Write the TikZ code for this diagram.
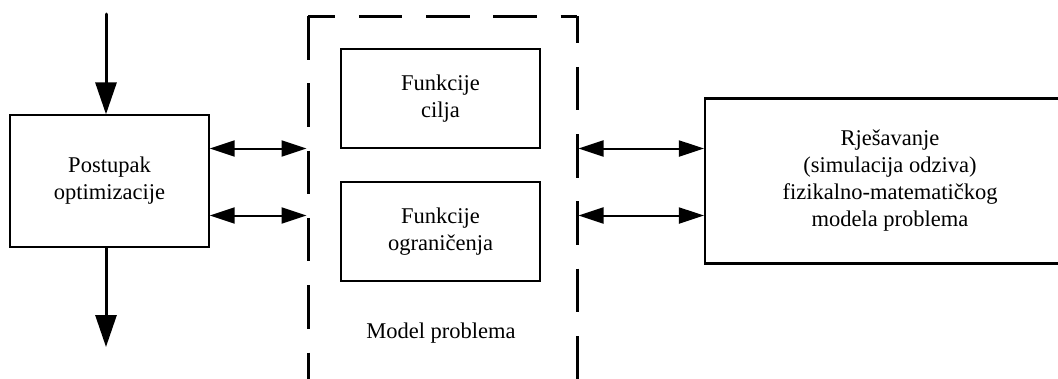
\documentclass[tikz,border=0pt]{standalone}
\usepackage{fontspec}
\setmainfont{Liberation Serif}
\usetikzlibrary{arrows.meta}
\begin{document}
\begin{tikzpicture}[x=1pt,y=-1pt,
  txt/.style={font=\fontsize{22.5}{27}\selectfont, align=center},
  thinbox/.style={draw, line width=1.3pt, inner sep=0pt, txt},
  midbox/.style={draw, line width=2.2pt, inner sep=0pt, txt},
  vflow/.style={line width=3pt, line cap=round, -{Triangle[length=32pt,width=21pt]}},
  link/.style={line width=2pt, {Triangle[length=25pt,width=16pt]}-{Triangle[length=25pt,width=16pt]}},
  dashline/.style={line width=3pt, dash pattern=on 43.5pt off 23.8pt}
]
\clip (0,0) rectangle (1058,378);

% left box
\node[thinbox, minimum width=199pt, minimum height=132pt] (opt) at (109.5,181) {Postupak\\optimizacije};

% vertical flow arrows
\coordinate (in) at (106,14);
\coordinate (out) at (106,347);
\draw[vflow] (in) -- (in |- opt.north);
\draw[vflow] (opt.south -| out) -- (out);

% dashed model box (open at bottom)
\coordinate (dl) at (308,16);
\coordinate (dr) at (577,16);
\coordinate (dlb) at (308,400);
\coordinate (drb) at (577,400);
\draw[dashline] (dl) -- (dlb);
\draw[dashline, dash phase=16.5pt] (dl) -- (dr);
\draw[dashline, dash phase=16.5pt] (dr) -- (drb);

% inner boxes
\node[midbox, minimum width=199.5pt, minimum height=99pt] (cilj) at (440.5,98.5) {Funkcije\\cilja};
\node[midbox, minimum width=199.5pt, minimum height=99pt] (ogr) at (440.5,231.5) {Funkcije\\ograničenja};
\node[txt, anchor=base] (model) at (441,338) {Model problema};

% right box (continues beyond right edge)
\node[midbox, minimum width=370pt, minimum height=165pt] (sim) at (890,181)
  {Rješavanje\\(simulacija odziva)\\fizikalno-matematičkog\\modela problema};

% link end coordinates on dashed lines
\coordinate (l1) at (306.5,148.5);
\coordinate (l2) at (306.5,215.5);
\coordinate (r1) at (578.5,148.5);
\coordinate (r2) at (578.5,215.5);

\draw[link] (opt.east |- l1) -- (l1);
\draw[link] (opt.east |- l2) -- (l2);
\draw[link] (r1) -- (sim.west |- r1);
\draw[link] (r2) -- (sim.west |- r2);
\end{tikzpicture}
\end{document}
